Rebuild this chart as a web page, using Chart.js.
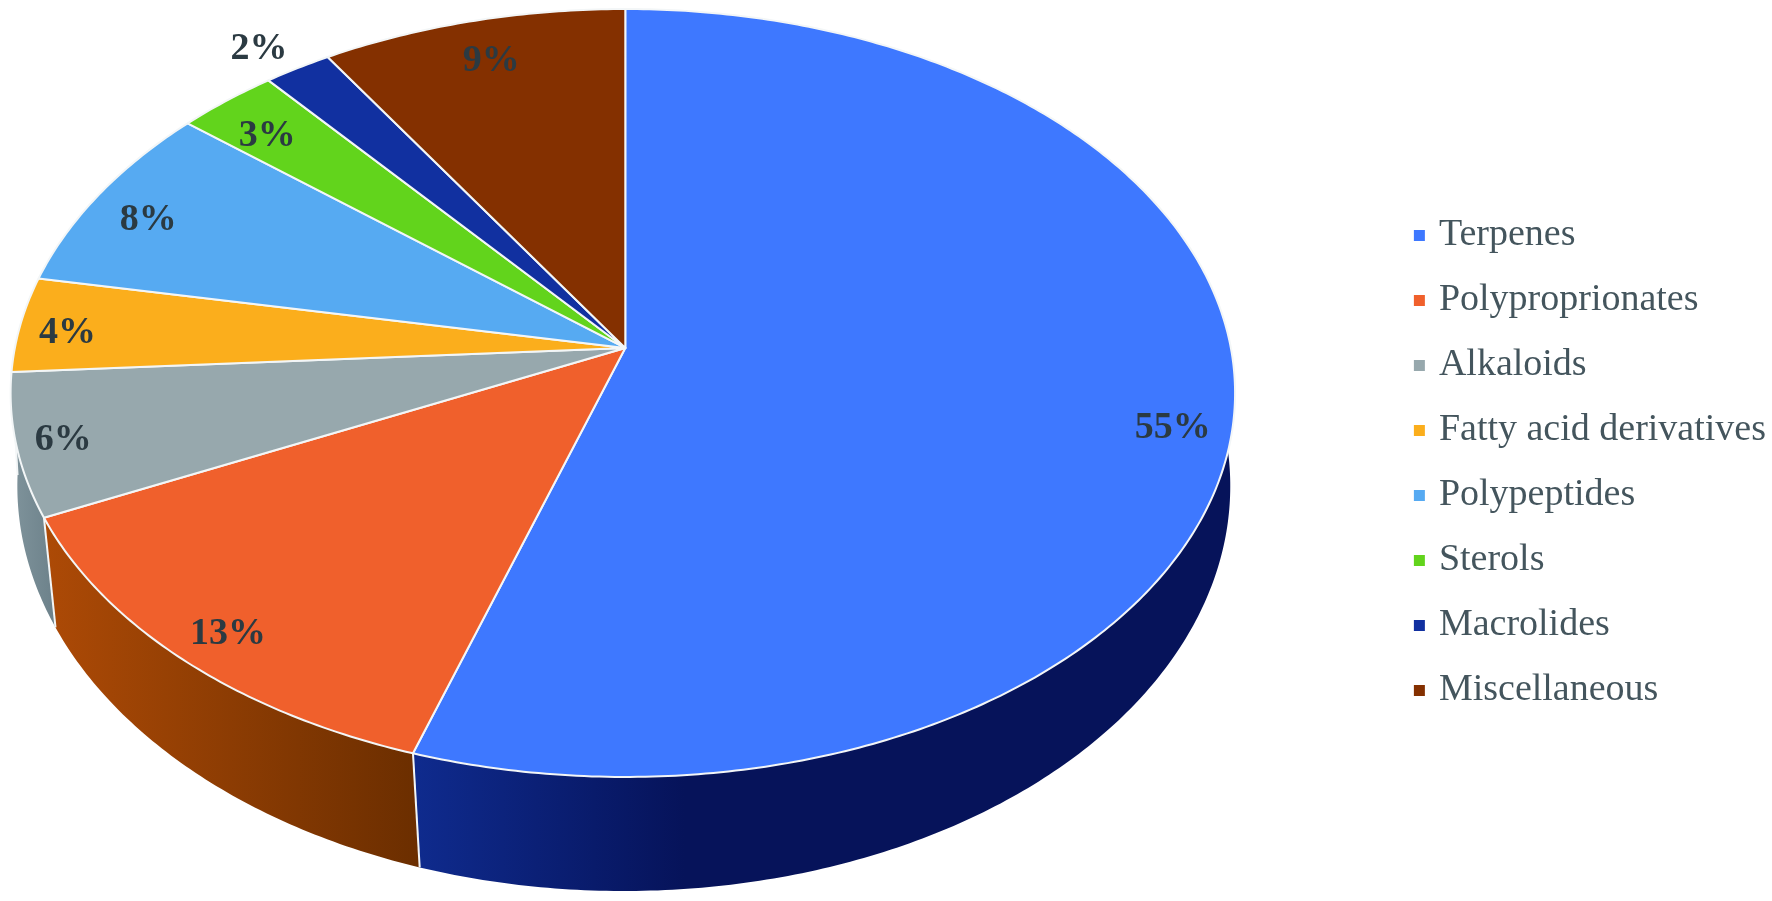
<!DOCTYPE html>
<html>
<head>
<meta charset="utf-8">
<title>Marine natural products</title>
<style>
    html, body { margin: 0; padding: 0; background: #fff; }
    canvas { display: block; }
</style>
<script src="https://cdn.jsdelivr.net/npm/chart.js@4/dist/chart.umd.js"></script>
</head>
<body>
<canvas id="camembert" width="1772" height="901"></canvas>
<script>
// Data
const categories = ["Terpenes", "Polyproprionates", "Alkaloids", "Fatty acid derivatives", "Polypeptides", "Sterols", "Macrolides", "Miscellaneous"];
const percents = [55, 13, 6, 4, 8, 3, 2, 9];
const sliceColors = ["#3e78ff", "#f0602c", "#97a8ad", "#fbae1c", "#56aaf2", "#62d41c", "#1130a0", "#843000"];

// Side wall colours: gradient from left to right, only the first three can be seen
const wallLeft = ["#0f2b8e", "#ad4a06", "#80949c", "#80949c", "#3c78aa", "#449410", "#0b2070", "#5c2200"];
const wallRight = ["#06135a", "#6b2e00", "#6c818a", "#80949c", "#3c78aa", "#449410", "#0b2070", "#5c2200"];
const wallRamp = [0.33, 1, 1, 1, 1, 1, 1, 1];

// Where each % label sits on the disc: fraction of the radius, angle shift in degrees
const labelRadius = [0.905, 0.912, 0.925, 0.92, 0.89, 0.875, 1.1, 0.875];
const labelShift = [3.7, -0.4, 0, -0.6, -1.4, -0.9, -1, 0.2];
const labelDrop = 3;

// Perspective of the tilted disc, everything relative to the centre and radius from Chart.js
// kxl is the width on the left of the centre, the picture is a bit wider on that side
const topFace = { ox: -0.1613, oy: -0.2626, kx: 1.3826, kxl: 1.3937, ky: 0.8646, a: 0.1172 };
const lowFace = { ox: -0.1647, oy: -0.0306, kx: 1.379, kxl: 1.379, ky: 0.9171, a: 0.09 };
const seamColor = "#f3f6f7";

function projette(arc, face, angle, frac) {
    const u = Math.cos(angle) * frac;
    const v = Math.sin(angle) * frac;
    const r = arc.outerRadius;
    const w = 1 - face.a * v;
    const kx = u < 0 ? face.kxl : face.kx;
    return {
        x: arc.x + r * (face.ox + kx * u / w),
        y: arc.y + r * (face.oy + face.ky * v / w),
    };
}

function pointsArc(arc, face) {
    const nb = Math.max(4, Math.ceil((arc.endAngle - arc.startAngle) * 90));
    const pts = [];
    for (let i = 0; i <= nb; i++) {
        pts.push(projette(arc, face, arc.startAngle + (arc.endAngle - arc.startAngle) * i / nb, 1));
    }
    return pts;
}

// Slices are still Chart.js elements, only their outline goes through the projection
Chart.ArcElement.prototype.draw = function (ctx) {
    const centre = projette(this, topFace, 0, 0);
    ctx.save();
    ctx.beginPath();
    ctx.moveTo(centre.x, centre.y);
    pointsArc(this, topFace).forEach(p => ctx.lineTo(p.x, p.y));
    ctx.closePath();
    ctx.fillStyle = this.options.backgroundColor;
    ctx.fill();
    ctx.strokeStyle = seamColor;
    ctx.lineWidth = 2;
    ctx.lineJoin = "round";
    ctx.stroke();
    ctx.restore();
};

const mursPlugin = {
    id: "murs",
    beforeDatasetsDraw(chart) {
        const ctx = chart.ctx;
        chart.getDatasetMeta(0).data.forEach((arc, i) => {
            const haut = pointsArc(arc, topFace);
            const bas = pointsArc(arc, lowFace);
            const xs = haut.concat(bas).map(p => p.x);
            const grad = ctx.createLinearGradient(Math.min(...xs), 0, Math.max(...xs), 0);
            grad.addColorStop(0, wallLeft[i]);
            grad.addColorStop(wallRamp[i], wallRight[i]);
            grad.addColorStop(1, wallRight[i]);

            ctx.save();
            ctx.beginPath();
            haut.forEach((p, k) => (k ? ctx.lineTo(p.x, p.y) : ctx.moveTo(p.x, p.y)));
            bas.reverse().forEach(p => ctx.lineTo(p.x, p.y));
            ctx.closePath();
            ctx.fillStyle = grad;
            ctx.fill();

            // white seam between two walls
            ctx.beginPath();
            ctx.moveTo(haut[0].x, haut[0].y);
            ctx.lineTo(bas[bas.length - 1].x, bas[bas.length - 1].y);
            ctx.strokeStyle = seamColor;
            ctx.lineWidth = 2;
            ctx.stroke();
            ctx.restore();
        });
    },
};

const etiquettesPlugin = {
    id: "etiquettes",
    afterDatasetsDraw(chart) {
        const ctx = chart.ctx;
        ctx.save();
        ctx.font = "bold 38px 'Liberation Serif'";
        ctx.fillStyle = "#2b3a42";
        ctx.textAlign = "center";
        ctx.textBaseline = "middle";
        chart.getDatasetMeta(0).data.forEach((arc, i) => {
            const milieu = (arc.startAngle + arc.endAngle) / 2 + labelShift[i] * Math.PI / 180;
            const p = projette(arc, topFace, milieu, labelRadius[i]);
            ctx.fillText(percents[i] + "%", p.x, p.y + labelDrop);
        });
        ctx.restore();
    },
};

new Chart(document.getElementById("camembert"), {
    type: "pie",
    data: {
        labels: categories,
        datasets: [{
            data: percents,
            backgroundColor: sliceColors,
            borderWidth: 0,
        }],
    },
    options: {
        responsive: false,
        animation: false,
        layout: { padding: { top: 25, right: -4 } },
        plugins: {
            tooltip: { enabled: false },
            legend: {
                position: "right",
                labels: {
                    usePointStyle: true,
                    pointStyle: "rect",
                    boxWidth: 1,
                    boxHeight: 11,
                    padding: 27,
                    color: "#44555d",
                    font: { family: "'Liberation Serif'", size: 38 },
                },
            },
        },
    },
    plugins: [mursPlugin, etiquettesPlugin],
});
</script>
</body>
</html>
